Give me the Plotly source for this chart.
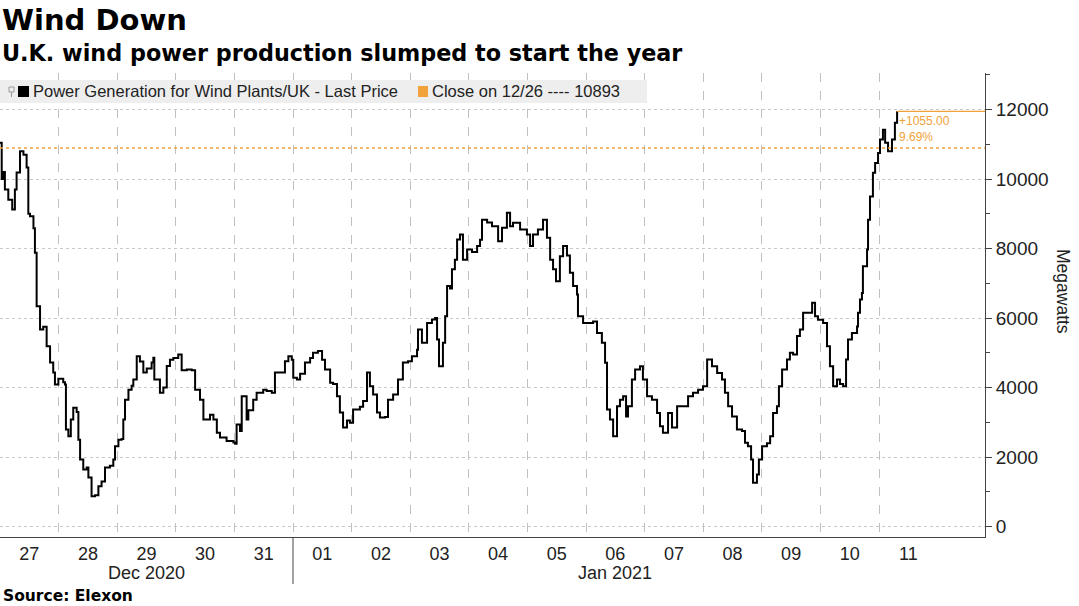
import pandas as pd
import plotly.graph_objects as go

# ---------------- data ----------------
start = pd.Timestamp("2020-12-27 00:00")
# hours since 2020-12-27 00:00
hours = [
    0, 0.7, 1.4, 2, 3.4, 5, 6.1, 6.8, 8.2, 9.6, 10.9, 11.6, 12.3, 13.7, 14.3, 15, 16.4, 17.7, 19.1, 20.5,
    21.8, 22.5, 23.9, 25.9, 26.6, 27, 28, 29, 30, 31.4, 32.1, 32.8, 34.1, 35.5, 36.2, 37.5, 38.9, 40.3, 41.6, 43,
    45, 46.4, 47.1, 48.5, 49.8, 50.5, 51.2, 52.6, 53.9, 54.6, 56, 57.3, 58.7, 60.1, 62.1, 62.8, 63.2, 64.2, 65.5, 66.9,
    68.3, 69.6, 71, 73, 74.4, 76.5, 78.5, 79.9, 81.9, 83.3, 86, 87.4, 88.8, 90.1, 92.8, 95.6, 96.3, 96.9, 98.3, 99,
    101, 101.7, 103.7, 105.1, 107.8, 109.2, 111.3, 112.6, 115.4, 116.7, 118.1, 119.5, 120.1, 121.6, 122.9, 124.9, 127, 128.2, 130.2, 131.9,
    133.1, 135.2, 136.4, 138, 139.2, 140.5, 142.1, 143.3, 144.6, 147.4, 148.7, 150.3, 151.5, 152.8, 154.4, 155.6, 157.7, 158.9, 161, 163,
    165, 167.1, 168.7, 170.8, 171.2, 172.8, 174.9, 176.9, 178.2, 179, 179.8, 181.4, 182.3, 183.1, 184.3, 185.1, 186.3, 187.2, 188.4, 189.6,
    191.3, 193.3, 195.4, 196.6, 197.4, 199.5, 201.5, 204, 205.6, 207.6, 208.9, 210.1, 213, 215.8, 217.1, 218.3, 220.3, 222.4, 224, 225.3,
    226.5, 227.7, 229.3, 230.6, 232.2, 233.4, 234.7, 236.3, 236.7, 238.8, 241.6, 242.9, 244.5, 246.5, 247.8, 248.6, 249.8, 251.1, 252.7, 253.9,
    255.2, 256.4, 257.2, 258.8, 260.1, 262.1, 263.3, 265, 267, 269.1, 270.3, 271.5, 273.6, 275.2, 277.3, 279.7, 281.8, 283.8, 285.9, 287.9,
    289.6, 291.6, 293.7, 295.7, 296.9, 298.2, 299.8, 301.8, 303.9, 305.1, 306.3, 307.6, 308.4, 310, 310.8, 312.1, 314.1, 315.4, 316.6, 318.2,
    319, 320.3, 322.3, 323.5, 324.8, 326.4, 327.6, 328.9, 330.9, 332.6, 333.8, 335, 337.1, 338.7, 339.9, 341.2, 342.8, 344, 345.3, 346.5,
    347.3, 348.9, 351, 351.4, 352.2, 353, 353.4, 355.1, 355.5, 356.3, 357.5, 358.4, 359.6, 360.4, 361.6, 362.5, 363.7, 365.3, 366.5, 367.4,
]
mw = [
    11040, 10000, 10200, 9700, 9400, 9120, 9700, 10190, 10800, 10700, 10330, 9000, 8930, 8580, 7880, 6340, 5670, 5750, 5190, 4720,
    4430, 4090, 4250, 4150, 4090, 2790, 2600, 3080, 3420, 3300, 2500, 1930, 1640, 1700, 1410, 870, 900, 1160, 1300, 1700,
    1750, 1930, 2310, 2500, 2520, 3080, 3650, 3940, 4050, 4230, 4900, 4750, 4430, 4550, 4720, 4860, 4230, 4230, 3850, 4000,
    4620, 4800, 4850, 4950, 4500, 4520, 4500, 3940, 3650, 3080, 3220, 3080, 2700, 2560, 2460, 2420, 2380, 2940, 2750, 3750,
    3080, 3350, 3650, 3850, 3940, 3900, 3850, 4430, 4430, 4760, 4900, 4800, 4280, 4230, 4400, 4720, 4850, 5000, 5050, 4800,
    4520, 4140, 4100, 3750, 3280, 2850, 3050, 2990, 3370, 3450, 3610, 4430, 4040, 3800, 3280, 3140, 3150, 3650, 3800, 4230,
    4720, 4760, 4900, 5090, 5670, 5290, 5860, 5960, 6000, 5380, 4610, 5290, 6050, 6920, 6850, 7400, 7680, 8260, 8400, 7680,
    7970, 7900, 8070, 8250, 8830, 8750, 8640, 8210, 8600, 9030, 8640, 8740, 8550, 8400, 8070, 8400, 8550, 8830, 8310, 7680,
    7400, 7060, 7780, 8070, 7800, 7300, 6920, 6680, 6050, 5860, 5860, 5900, 5570, 5290, 4710, 3370, 3080, 2600, 3460, 3650,
    3750, 3170, 3460, 4230, 4520, 4610, 4230, 3750, 3650, 3270, 2890, 2700, 3270, 2850, 3460, 3460, 3750, 3850, 3940, 4040,
    4810, 4610, 4420, 4230, 3850, 3460, 3170, 2790, 2750, 2410, 2310, 1930, 1260, 1500, 1930, 2310, 2400, 2600, 3270, 3460,
    4040, 4520, 4810, 5000, 4950, 5480, 5670, 6150, 6150, 6440, 6050, 5950, 5860, 5190, 4610, 4040, 4230, 4100, 4040, 4810,
    5380, 5570, 5760, 6150, 6530, 6720, 7490, 7970, 8830, 9500, 10180, 10460, 10750, 11140, 11420, 11040, 10800, 11140, 11620, 11948,
]
close_value = 10893
close_label = "Close on 12/26"
series_name = "Power Generation for Wind Plants/UK - Last Price"
day_labels = ["27", "28", "29", "30", "31", "01", "02", "03", "04", "05", "06", "07", "08", "09", "10", "11"]
month_labels = ["Dec 2020", "Jan 2021"]
month_day_counts = [5, 11]
y_ticks = [0, 2000, 4000, 6000, 8000, 10000, 12000]

# ---------------- derived ----------------
times = start + pd.to_timedelta(hours, unit="h")
x_end = start + pd.Timedelta(hours=403.4)
day_starts = [start + pd.Timedelta(days=i) for i in range(len(day_labels))]
day_centers = [d + pd.Timedelta(hours=12) for d in day_starts]
change = mw[-1] - close_value
pct = change / close_value * 100

ORANGE = "#F2A23A"
FONT = "Liberation Sans, Arial, sans-serif"
BOLD = "DejaVu Sans, Verdana, sans-serif"

# plot-area geometry in pixels (for paper-coordinate placement of texts)
PL, PR, PT, PB = 0, 985, 73, 537
PW, PH = PR - PL, PB - PT


def px(xp):
    return (xp - PL) / PW


def py(yp):
    return (PB - yp) / PH


fig = go.Figure()
fig.add_trace(go.Scatter(
    x=times, y=mw, mode="lines", line=dict(color="black", width=2, shape="hv"),
    name=series_name, showlegend=False, hoverinfo="skip",
))

# close line (dotted) and last-value line (solid)
fig.add_shape(type="line", xref="paper", x0=0, x1=1, yref="y", y0=close_value, y1=close_value,
              line=dict(color=ORANGE, width=1.5, dash="dot"), layer="above")
fig.add_shape(type="line", xref="x", x0=times[-1], x1=x_end, yref="y", y0=mw[-1], y1=mw[-1],
              line=dict(color=ORANGE, width=1.2), layer="above")
fig.add_annotation(x=times[-1], y=mw[-1], xref="x", yref="y", xanchor="left", yanchor="top",
                   xshift=0, yshift=-1, showarrow=False, align="left",
                   text=f"+{change:.2f}<br>{pct:.2f}%",
                   font=dict(family=FONT, size=12, color=ORANGE))

# legend band with square keys
fig.add_shape(type="rect", xref="paper", yref="paper", x0=0, x1=px(647), y0=py(103),
              y1=py(80), fillcolor="#eeeeee", line=dict(width=0), layer="above")
fig.add_shape(type="rect", xref="paper", yref="paper", x0=px(18), x1=px(29), y0=py(97),
              y1=py(86), fillcolor="#000000", line=dict(width=0), layer="above")
fig.add_shape(type="rect", xref="paper", yref="paper", x0=px(418), x1=px(428), y0=py(97),
              y1=py(86), fillcolor=ORANGE, line=dict(width=0), layer="above")
# small legend icon
fig.add_shape(type="rect", xref="paper", yref="paper", x0=px(9), x1=px(14), y0=py(92),
              y1=py(87), fillcolor="#eeeeee", line=dict(color="#999", width=1), layer="above")
fig.add_shape(type="line", xref="paper", yref="paper", x0=px(11.5), x1=px(11.5), y0=py(97),
              y1=py(92), line=dict(color="#999", width=1), layer="above")
fig.add_annotation(xref="paper", yref="paper", x=px(31), y=py(91.5), xanchor="left",
                   yanchor="middle", showarrow=False, text=series_name,
                   font=dict(family=FONT, size=16.5, color="#222"))
fig.add_annotation(xref="paper", yref="paper", x=px(430), y=py(91.5), xanchor="left",
                   yanchor="middle", showarrow=False, text=f"{close_label} ---- {close_value}",
                   font=dict(family=FONT, size=16.5, color="#222"))

# month labels and separator
pos = 0
for lab, n in zip(month_labels, month_day_counts):
    c = start + pd.Timedelta(days=pos + n / 2)
    fig.add_annotation(x=c, xref="x", y=py(573), yref="paper", text=lab, showarrow=False,
                       xanchor="center", yanchor="middle", font=dict(family=FONT, size=18, color="#222"))
    pos += n
fig.add_shape(type="line", xref="x", x0=day_starts[5], x1=day_starts[5], yref="paper", y0=0,
              y1=py(584), line=dict(color="#444", width=1))

# titles
fig.add_annotation(xref="paper", yref="paper", x=px(0), y=py(20), xanchor="left", yanchor="middle",
                   text="<b>Wind Down</b>", showarrow=False, font=dict(family=BOLD, size=29, color="#000"))
fig.add_annotation(xref="paper", yref="paper", x=px(0), y=py(53), xanchor="left", yanchor="middle",
                   text="<b>U.K. wind power production slumped to start the year</b>", showarrow=False,
                   font=dict(family=BOLD, size=22.3, color="#000"))
fig.add_annotation(xref="paper", yref="paper", x=px(1), y=py(596), xanchor="left", yanchor="middle",
                   text="<b>Source: Elexon</b>", showarrow=False, font=dict(family=BOLD, size=15.5, color="#000"))
fig.add_annotation(xref="paper", yref="paper", x=px(1063), y=py(291), xanchor="center",
                   yanchor="middle", text="Megawatts", textangle=90, showarrow=False,
                   font=dict(family=FONT, size=17.5, color="#222"))

fig.update_layout(
    width=1079, height=606,
    margin=dict(l=PL, r=1079 - PR, t=PT, b=606 - PB),
    paper_bgcolor="white", plot_bgcolor="white",
    showlegend=False,
    xaxis=dict(
        type="date", range=[start, x_end],
        tickmode="array", tickvals=day_centers, ticktext=day_labels,
        ticks="", showgrid=False, showline=True, linecolor="#444", linewidth=1,
        tickfont=dict(family=FONT, size=18, color="#222"),
        minor=dict(tickmode="array", tickvals=day_starts[1:], showgrid=True, griddash="dash",
                   gridcolor="#c0c0c0", gridwidth=1, ticks=""),
        zeroline=False,
    ),
    yaxis=dict(
        side="right", range=[-300, 13050], tickvals=y_ticks, tickformat="d",
        ticks="outside", ticklen=6, tickcolor="#444", showline=True, linecolor="#444", linewidth=1,
        showgrid=True, gridcolor="#c8c8c8", griddash="dot", gridwidth=1,
        tickfont=dict(family=FONT, size=19, color="#222"),
        minor=dict(dtick=1000, ticks="outside", ticklen=4, tickcolor="#444", showgrid=False),
        zeroline=False,
    ),
)

fig.write_html("out.html", config={"displayModeBar": False},
               post_script="document.body.style.margin='0px';")
